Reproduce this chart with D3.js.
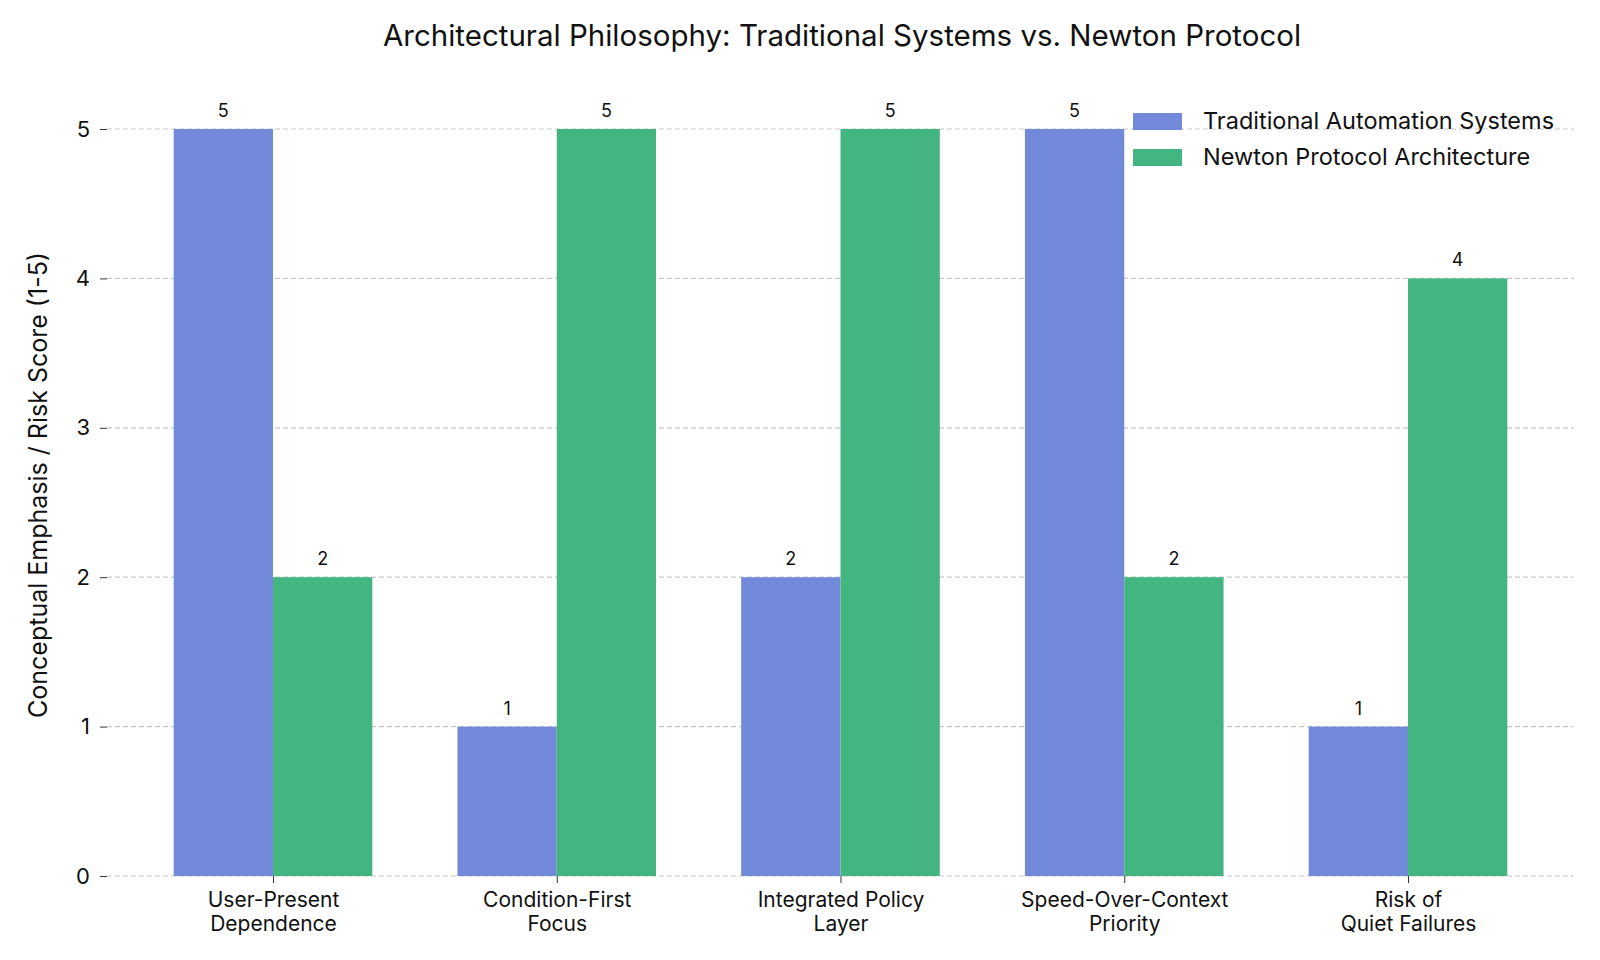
<!DOCTYPE html>
<html>
<head>
<meta charset="utf-8">
<script src="https://cdn.jsdelivr.net/npm/d3@7.9.0/dist/d3.min.js"></script>
<style>
  html, body { margin: 0; padding: 0; background: #fff; }
  svg { display: block; font-family: Inter, "Open Sans", sans-serif; }
</style>
</head>
<body>
<svg id="chart" width="1600" height="960"></svg>
<script>
// data
const categories = [
  ['User-Present', 'Dependence'],
  ['Condition-First', 'Focus'],
  ['Integrated Policy', 'Layer'],
  ['Speed-Over-Context', 'Priority'],
  ['Risk of', 'Quiet Failures']
];
const traditionalScores = [5, 1, 2, 5, 1];
const newtonScores = [2, 5, 5, 2, 4];
const seriesNames = ['Traditional Automation Systems', 'Newton Protocol Architecture'];
const seriesColors = ['#7289da', '#43b581'];
const yTicks = [0, 1, 2, 3, 4, 5];

const svg = d3.select('#chart');
const plotLeft = 107, plotRight = 1574, plotTop = 129, plotBottom = 876;

// x in category units, like matplotlib: bars at i +/- 0.35/2
const barW = 0.35;
const x = d3.scaleLinear().domain([-0.585, 4.585]).range([plotLeft, plotRight]);
const y = d3.scaleLinear().domain([0, 5]).range([plotBottom, plotTop]);

// grid
svg.append('g')
  .selectAll('line')
  .data(yTicks)
  .join('line')
  .attr('x1', plotLeft).attr('x2', plotRight)
  .attr('y1', d => y(d)).attr('y2', d => y(d))
  .attr('stroke', '#c8c8c8')
  .attr('stroke-width', 1.2)
  .attr('stroke-dasharray', '5,3');

// bars
const series = [traditionalScores, newtonScores];
series.forEach((vals, s) => {
  const off = s === 0 ? -barW / 2 : barW / 2;
  const g = svg.append('g');
  g.selectAll('rect')
    .data(vals)
    .join('rect')
    .attr('x', (d, i) => x(i + off - barW / 2))
    .attr('width', x(barW) - x(0))
    .attr('y', d => y(d))
    .attr('height', d => y(0) - y(d))
    .attr('fill', seriesColors[s]);
  g.selectAll('text')
    .data(vals)
    .join('text')
    .attr('x', (d, i) => x(i + off))
    .attr('y', d => y(d) - 12)
    .attr('text-anchor', 'middle')
    .attr('font-size', 18)
    .attr('fill', '#111')
    .text(d => d);
});

// y axis (no spine)
const yAxis = svg.append('g')
  .attr('transform', `translate(${plotLeft},0)`)
  .call(d3.axisLeft(y).tickValues(yTicks).tickSize(7).tickPadding(10).tickFormat(d3.format('d')));
yAxis.select('.domain').remove();
yAxis.selectAll('text').attr('font-size', 22).attr('fill', '#111').style('font-family', 'Inter, sans-serif');
yAxis.selectAll('line').attr('stroke', '#333');

// x axis
const xAxis = svg.append('g')
  .attr('transform', `translate(0,${plotBottom})`)
  .call(d3.axisBottom(x).tickValues(d3.range(categories.length)).tickSize(7).tickFormat(''));
xAxis.select('.domain').remove();
xAxis.selectAll('line').attr('stroke', '#333');
xAxis.selectAll('.tick')
  .append('text')
  .attr('text-anchor', 'middle')
  .attr('font-size', 21)
  .attr('fill', '#111')
  .style('font-family', 'Inter, sans-serif')
  .selectAll('tspan')
  .data((d) => categories[d])
  .join('tspan')
  .attr('x', 0)
  .attr('y', (d, i) => 31 + i * 23.5)
  .text(d => d);

// title
svg.append('text')
  .attr('x', 842)
  .attr('y', 46)
  .attr('text-anchor', 'middle')
  .attr('font-size', 29.5)
  .attr('fill', '#111')
  .text('Architectural Philosophy: Traditional Systems vs. Newton Protocol');

// y label
svg.append('text')
  .attr('transform', 'translate(47,485) rotate(-90)')
  .attr('text-anchor', 'middle')
  .attr('font-size', 25)
  .attr('fill', '#111')
  .text('Conceptual Emphasis / Risk Score (1-5)');

// legend
const legend = svg.append('g').attr('transform', 'translate(1133,113)');
seriesNames.forEach((name, i) => {
  legend.append('rect')
    .attr('x', 0).attr('y', i * 36)
    .attr('width', 49).attr('height', 17)
    .attr('fill', seriesColors[i]);
  legend.append('text')
    .attr('x', 70).attr('y', i * 36 + 16)
    .attr('font-size', 23.5)
    .attr('fill', '#111')
    .text(name);
});
</script>
</body>
</html>
